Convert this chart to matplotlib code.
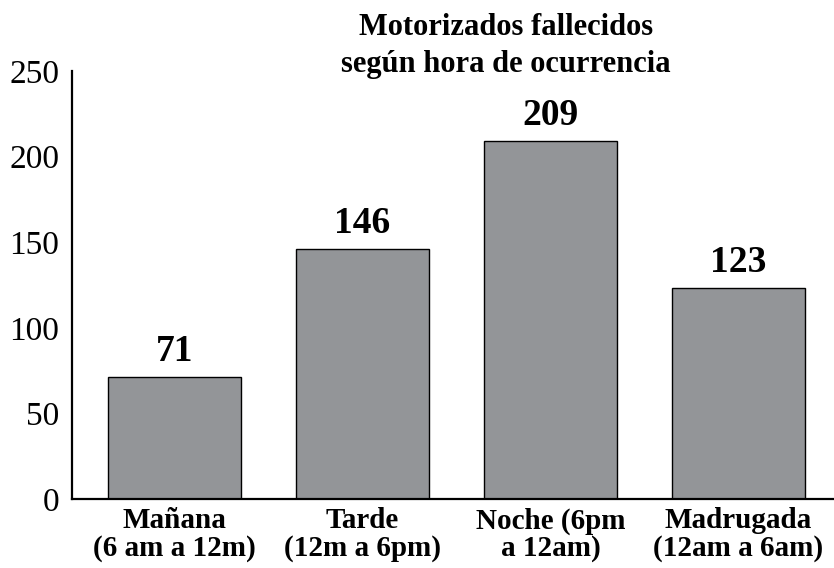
import matplotlib.pyplot as plt

# data
categorias = ['Mañana\n(6 am a 12m)', 'Tarde\n(12m a 6pm)', 'Noche (6pm\na 12am)', 'Madrugada\n(12am a 6am)']
fallecidos = [71, 146, 209, 123]
yticks = [0, 50, 100, 150, 200, 250]

plt.rcParams['font.family'] = ['Liberation Serif', 'DejaVu Serif']

fig = plt.figure(figsize=(8.34, 5.68), dpi=100)
ax = fig.add_axes([72/834, 69/568, 1 - 72/834, 1 - 69/568 - 71/568])

x = range(len(fallecidos))
bars = ax.bar(x, fallecidos, width=0.707, color='#939598', edgecolor='black', linewidth=1.0)

for b, v in zip(bars, fallecidos):
    ax.annotate(str(v), (b.get_x() + b.get_width()/2, v), xytext=(0, 6), textcoords='offset points',
                ha='center', va='bottom', fontsize=27, fontweight='bold')

ax.set_xlim(-0.545, 3.508)
ax.set_ylim(0, 250)
ax.set_yticks(yticks)
ax.set_yticklabels([str(t) for t in yticks], fontsize=24)
ax.set_xticks(list(x))
ax.set_xticklabels(categorias, fontsize=21, fontweight='bold', linespacing=1.0)
ax.tick_params(axis='both', length=0)
ax.tick_params(axis='y', pad=9)
ax.tick_params(axis='x', pad=6)

for s in ['top', 'right']:
    ax.spines[s].set_visible(False)
ax.spines['left'].set_linewidth(1.6)
ax.spines['bottom'].set_linewidth(1.6)

fig.text(506/834, 1 - 46/568, 'Motorizados fallecidos\nsegún hora de ocurrencia', ha='center', va='center',
         fontsize=22, fontweight='bold', linespacing=1.4)

fig.savefig('out.png', dpi=100)
